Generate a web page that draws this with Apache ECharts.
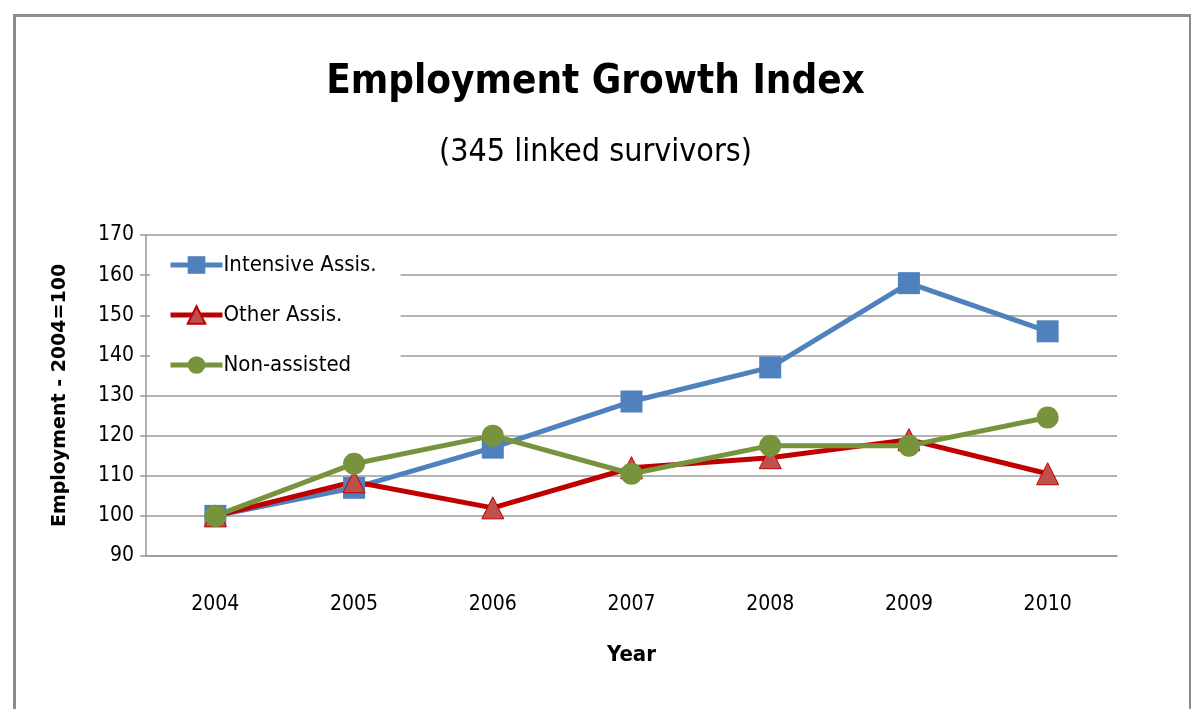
<!DOCTYPE html>
<html><head><meta charset="utf-8">
<script src="https://cdn.jsdelivr.net/npm/echarts@6/dist/echarts.min.js"></script>
<style>html,body{margin:0;padding:0;background:#fff}#c{width:1191px;height:709px}</style>
</head><body><div id="c"></div>
<script>
const years = ['2004','2005','2006','2007','2008','2009','2010'];
const intensive = [100, 107, 117, 128.5, 137, 158, 146];
const otherAssis = [100, 108.5, 102, 112, 114.5, 119, 110.5];
const nonAssisted = [100, 113, 120, 110.5, 117.5, 117.5, 124.5];
const seriesNames = ['Intensive Assis.', 'Other Assis.', 'Non-assisted'];
const yTicks = {min: 90, max: 170, interval: 10};

const FONT = '"Liberation Sans Narrow", "DejaVu Sans Condensed", "Roboto Condensed", sans-serif';
const chart = echarts.init(document.getElementById('c'));
chart.setOption({
  animation: false,
  backgroundColor: '#fff',
  graphic: [{type: 'rect', left: 12, top: 13, shape: {x: 0, y: 0, width: 1176, height: 720}, style: {fill: 'none', stroke: '#8c8c8c', lineWidth: 3}, z: -1}],
  title: [
    {text: 'Employment Growth Index', left: 'center', top: 58, textStyle: {fontFamily: FONT, fontSize: 40, fontWeight: 'bold', color: '#000'}},
    {text: '(345 linked survivors)', left: 'center', top: 132, textStyle: {fontFamily: FONT, fontSize: 32, fontWeight: 'normal', color: '#000'}}
  ],
  grid: {left: 146, right: 74, top: 235, bottom: 153},
  legend: {
    orient: 'vertical', left: 150, top: 242, itemGap: 28, itemWidth: 52, itemHeight: 22,
    backgroundColor: '#fff', padding: [12, 24, 14, 18],
    lineStyle: {width: 5},
    textStyle: {fontFamily: FONT, fontSize: 22, color: '#000', padding: [0, 0, 0, -4]},
    data: seriesNames
  },
  xAxis: {
    type: 'category', data: years, boundaryGap: true,
    name: 'Year', nameLocation: 'middle', nameGap: 88,
    nameTextStyle: {fontFamily: FONT, fontSize: 22, fontWeight: 'bold', color: '#000'},
    axisLine: {lineStyle: {color: '#999', width: 1.5}},
    axisTick: {show: false},
    axisLabel: {fontFamily: FONT, fontSize: 21, color: '#000', margin: 38}
  },
  yAxis: {
    type: 'value', min: yTicks.min, max: yTicks.max, interval: yTicks.interval,
    name: 'Employment - 2004=100', nameLocation: 'middle', nameGap: 76, nameRotate: 90,
    nameTextStyle: {fontFamily: '"DejaVu Sans", sans-serif', fontSize: 19, fontWeight: 'bold', color: '#000'},
    axisLine: {show: true, lineStyle: {color: '#999', width: 1.5}},
    axisTick: {show: true, length: 6, lineStyle: {color: '#999', width: 1.5}},
    axisLabel: {fontFamily: FONT, fontSize: 21, color: '#000', margin: 12},
    splitLine: {lineStyle: {color: '#9a9a9a', width: 1.5}}
  },
  series: [
    {name: seriesNames[0], type: 'line', data: intensive, symbol: 'rect', symbolSize: 22,
     lineStyle: {color: '#4F81BD', width: 5}, itemStyle: {color: '#4F81BD'}},
    {name: seriesNames[1], type: 'line', data: otherAssis, symbol: 'triangle', symbolSize: 22,
     lineStyle: {color: '#C00000', width: 5}, itemStyle: {color: '#C0504D', borderColor: '#C00000', borderWidth: 1}},
    {name: seriesNames[2], type: 'line', data: nonAssisted, symbol: 'circle', symbolSize: 22,
     lineStyle: {color: '#77933C', width: 5}, itemStyle: {color: '#77933C'}}
  ]
});
</script></body></html>
